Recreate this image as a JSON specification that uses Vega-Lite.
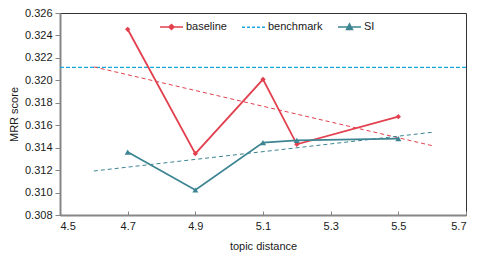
{
  "$schema": "https://vega.github.io/schema/vega-lite/v6.json",
  "width": 406,
  "height": 202,
  "autosize": {"type": "none"},
  "padding": {"left": 60, "top": 13, "right": 11, "bottom": 42},
  "config": {
    "font": "Liberation Sans",
    "view": {"stroke": "#333333", "strokeWidth": 1},
    "axis": {
      "grid": false,
      "domainColor": "#868686",
      "domainWidth": 2,
      "tickColor": "#868686",
      "tickWidth": 1,
      "labelFont": "Liberation Sans",
      "labelFontSize": 11,
      "labelColor": "#1a1a1a",
      "labelOverlap": false,
      "titleFont": "Liberation Sans",
      "titleFontSize": 11,
      "titleFontWeight": "normal",
      "titleColor": "#1a1a1a"
    }
  },
  "datasets": {
    "main": [
      {"series": "baseline", "x": 4.7, "y": 0.32455},
      {"series": "baseline", "x": 4.9, "y": 0.31346},
      {"series": "baseline", "x": 5.1, "y": 0.32009},
      {"series": "baseline", "x": 5.2, "y": 0.3143},
      {"series": "baseline", "x": 5.5, "y": 0.31676},
      {"series": "SI", "x": 4.7, "y": 0.31361},
      {"series": "SI", "x": 4.9, "y": 0.31023},
      {"series": "SI", "x": 5.1, "y": 0.31445},
      {"series": "SI", "x": 5.2, "y": 0.31465},
      {"series": "SI", "x": 5.5, "y": 0.3148}
    ],
    "trend": [
      {"series": "baseline trend", "x": 4.6, "y": 0.3212},
      {"series": "baseline trend", "x": 5.6, "y": 0.31418},
      {"series": "SI trend", "x": 4.6, "y": 0.31192},
      {"series": "SI trend", "x": 5.6, "y": 0.31537}
    ],
    "bench": [
      {"series": "benchmark", "y": 0.32116}
    ]
  },
  "layer": [
    {
      "data": {"name": "bench"},
      "mark": {"type": "rule", "strokeWidth": 1.3, "strokeDash": [4, 2], "stroke": "#1AA7E0"},
      "encoding": {
        "y": {
          "field": "y",
          "type": "quantitative",
          "title": "MRR score",
          "scale": {"domain": [0.308, 0.326], "nice": false, "zero": false},
          "axis": {
            "values": [0.308, 0.31, 0.312, 0.314, 0.316, 0.318, 0.32, 0.322, 0.324, 0.326],
            "tickCount": 10,
            "format": ".3f",
            "tickSize": 5,
            "labelPadding": 3,
            "titlePadding": 5,
            "labelOverlap": false
          }
        }
      }
    },
    {
      "data": {"name": "trend"},
      "mark": {"type": "line", "strokeWidth": 1, "strokeDash": [4, 3]},
      "encoding": {
        "x": {
          "field": "x",
          "type": "quantitative",
          "title": "topic distance",
          "scale": {"domain": [4.5, 5.7], "nice": false, "zero": false},
          "axis": {
            "values": [4.5, 4.7, 4.9, 5.1, 5.3, 5.5, 5.7],
            "format": ".1f",
            "tickSize": -4,
            "labelPadding": 9,
            "titlePadding": 9
          }
        },
        "y": {"field": "y", "type": "quantitative"},
        "color": {
          "field": "series",
          "type": "nominal",
          "scale": {
            "domain": ["baseline", "benchmark", "SI", "baseline trend", "SI trend"],
            "range": ["#E2404E", "#1AA7E0", "#3D8592", "#E2404E", "#3D8592"]
          },
          "legend": {
            "values": ["baseline", "benchmark", "SI"],
            "title": null,
            "orient": "none",
            "legendX": 99,
            "legendY": 1,
            "direction": "horizontal",
            "padding": 0,
            "symbolSize": 529,
            "symbolStrokeWidth": 1.5,
            "labelFont": "Liberation Sans",
            "labelFontSize": 11,
            "labelColor": "#1a1a1a",
            "labelOffset": 2,
            "columnPadding": 12,
            "encode": {
              "symbols": {
                "update": {
                  "shape": {"signal": "datum.value === 'baseline' ? 'M-1,0H1M0,-0.22L0.22,0L0,0.22L-0.22,0Z' : datum.value === 'benchmark' ? 'M-1,0H-0.74M-0.565,0H-0.305M-0.13,0H0.13M0.305,0H0.565M0.74,0H1' : 'M-1,0H1M0,-0.28L0.26,0.2L-0.26,0.2Z'"},
                  "fill": {"signal": "datum.value === 'baseline' ? '#E2404E' : datum.value === 'benchmark' ? 'transparent' : '#3D8592'"},
                  "stroke": {"signal": "datum.value === 'baseline' ? '#E2404E' : datum.value === 'benchmark' ? '#1AA7E0' : '#3D8592'"},
                  "strokeWidth": {"value": 1.5},
                  "opacity": {"value": 1},
                  "strokeDash": {"value": []}
                }
              }
            }
          }
        }
      }
    },
    {
      "data": {"name": "main"},
      "mark": {"type": "line", "strokeWidth": 1.8},
      "encoding": {
        "x": {"field": "x", "type": "quantitative"},
        "y": {"field": "y", "type": "quantitative"},
        "color": {"field": "series", "type": "nominal"}
      }
    },
    {
      "data": {"name": "main"},
      "mark": {"type": "point", "filled": true, "opacity": 1},
      "encoding": {
        "x": {"field": "x", "type": "quantitative"},
        "y": {"field": "y", "type": "quantitative"},
        "color": {"field": "series", "type": "nominal"},
        "shape": {
          "field": "series",
          "type": "nominal",
          "scale": {"domain": ["baseline", "SI"], "range": ["diamond", "triangle-up"]},
          "legend": null
        },
        "size": {
          "field": "series",
          "type": "nominal",
          "scale": {"domain": ["baseline", "SI"], "range": [28, 36]},
          "legend": null
        }
      }
    }
  ]
}
